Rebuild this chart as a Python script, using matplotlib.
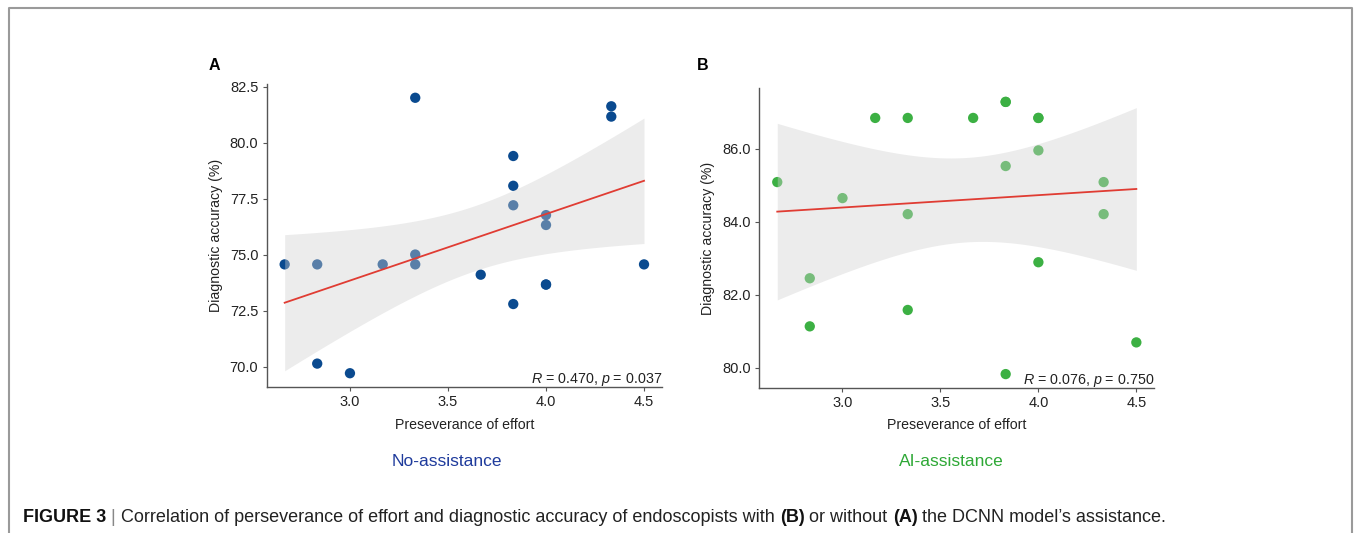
import numpy as np
import matplotlib
matplotlib.use("Agg")
import matplotlib.pyplot as plt
from matplotlib.lines import Line2D

plt.rcParams['font.family'] = ['Liberation Sans', 'DejaVu Sans']
plt.rcParams['mathtext.fontset'] = 'custom'
plt.rcParams['mathtext.rm'] = 'Liberation Sans'
plt.rcParams['mathtext.it'] = 'Liberation Sans:italic'

# panel A: no assistance (one point at 4.0/73.66 is hidden under its twin)
effort_a = [2.667, 2.833, 3.167, 3.333, 3.333, 3.333, 3.667, 3.833, 3.833, 3.833,
            3.833, 4.0, 4.0, 4.0, 4.0, 4.333, 4.333, 4.5, 2.833, 3.0]
acc_a = [74.56, 74.56, 74.56, 75.0, 74.56, 82.0, 74.1, 79.4, 78.07, 77.2,
         72.79, 76.76, 76.32, 73.66, 73.66, 81.62, 81.16, 74.56, 70.13, 69.7]

# panel B: AI assistance (two overlapping points at the top)
effort_b = [2.667, 2.833, 2.833, 3.0, 3.167, 3.333, 3.333, 3.333, 3.667, 3.833,
            3.833, 3.833, 3.833, 4.0, 4.0, 4.0, 4.0, 4.333, 4.333, 4.5]
acc_b = [85.09, 82.45, 81.13, 84.65, 86.85, 86.85, 84.21, 81.58, 86.85, 87.29,
         87.29, 85.53, 79.82, 86.85, 86.85, 85.96, 82.89, 85.09, 84.21, 80.69]

stats_a = "$\\it{R}$ = 0.470, $\\it{p}$ = 0.037"
stats_b = "$\\it{R}$ = 0.076, $\\it{p}$ = 0.750"
yticks_a = [70.0, 72.5, 75.0, 77.5, 80.0, 82.5]
yticks_b = [80.0, 82.0, 84.0, 86.0]
xticks = [3.0, 3.5, 4.0, 4.5]

# two-sided 95% t quantiles by degrees of freedom
T975 = {16: 2.1199, 17: 2.1098, 18: 2.1009, 19: 2.0930}

W, H = 1355, 533
fig = plt.figure(figsize=(W / 100, H / 100), dpi=100)


def px_box(l, t, r, b):
    return [l / W, 1 - b / H, (r - l) / W, (b - t) / H]


def smooth_panel(ax, x, y, color, stats, yticks):
    x = np.asarray(x, float)
    y = np.asarray(y, float)
    n = len(x)
    b, a = np.polyfit(x, y, 1)
    resid = y - (a + b * x)
    s = np.sqrt(np.sum(resid ** 2) / (n - 2))
    sxx = np.sum((x - x.mean()) ** 2)
    xg = np.linspace(x.min(), x.max(), 100)
    yg = a + b * xg
    se = s * np.sqrt(1.0 / n + (xg - x.mean()) ** 2 / sxx)
    t = T975[n - 2]

    ax.scatter(x, y, s=55, color=color, edgecolors='none', zorder=1)
    ax.fill_between(xg, yg - t * se, yg + t * se, color='#d0d0d0', alpha=0.4,
                    linewidth=0, zorder=2)
    ax.plot(xg, yg, color='#e03c33', lw=1.3, zorder=3)

    for sp in ['top', 'right']:
        ax.spines[sp].set_visible(False)
    for sp in ['left', 'bottom']:
        ax.spines[sp].set_color('#555555')
        ax.spines[sp].set_linewidth(1.0)
    ax.tick_params(direction='out', length=3, width=0.8, color='#555555',
                   labelsize=10.5, labelcolor='#222222', pad=3)
    ax.set_xticks(xticks)
    ax.set_xticklabels([f"{v:.1f}" for v in xticks])
    ax.set_yticks(yticks)
    ax.set_yticklabels([f"{v:.1f}" for v in yticks])
    ax.set_xlabel('Preseverance of effort', fontsize=10.2, color='#222222', labelpad=6)
    ax.set_ylabel('Diagnostic accuracy (%)', fontsize=10.2, color='#222222', labelpad=5)
    ax.text(1.0, 0.013, stats, transform=ax.transAxes, ha='right', va='baseline',
            fontsize=10.3, color='#222222')


ax_a = fig.add_axes(px_box(266.7, 84, 662, 387))
smooth_panel(ax_a, effort_a, acc_a, '#0a4a8f', stats_a, yticks_a)
ax_b = fig.add_axes(px_box(759.3, 88.3, 1154.3, 387.7))
smooth_panel(ax_b, effort_b, acc_b, '#3cb043', stats_b, yticks_b)

fig.text(209 / W, 1 - 65 / H, 'A', fontsize=11.5, fontweight='bold', va='center')
fig.text(697 / W, 1 - 65 / H, 'B', fontsize=11.5, fontweight='bold', va='center')
fig.text(447 / W, 1 - 462 / H, 'No-assistance', fontsize=12.5, color='#1f3b9c',
         ha='center', va='center')
fig.text(951 / W, 1 - 462 / H, 'AI-assistance', fontsize=12.5, color='#2ea836',
         ha='center', va='center')

# page frame, open at the bottom
fig.add_artist(Line2D([9 / W, 9 / W, 1352 / W, 1352 / W],
                      [0, 1 - 8 / H, 1 - 8 / H, 0],
                      transform=fig.transFigure, color='#9a9a9a', lw=1.5))

# caption with mixed weights
pieces = [('FIGURE 3', 'bold', '#111111'), (' | ', 'normal', '#888888'),
          ('Correlation of perseverance of effort and diagnostic accuracy of endoscopists with ', 'normal', '#222222'),
          ('(B)', 'bold', '#111111'), (' or without ', 'normal', '#222222'),
          ('(A)', 'bold', '#111111'), (' the DCNN model\u2019s assistance.', 'normal', '#222222')]
renderer = fig.canvas.get_renderer()
xpos = 23
for txt, wt, col in pieces:
    t = fig.text(xpos / W, 1 - 517 / H, txt, fontsize=13, fontweight=wt, color=col,
                 va='center', ha='left')
    bb = t.get_window_extent(renderer=renderer)
    xpos += bb.width

fig.savefig('out.png', dpi=100)
